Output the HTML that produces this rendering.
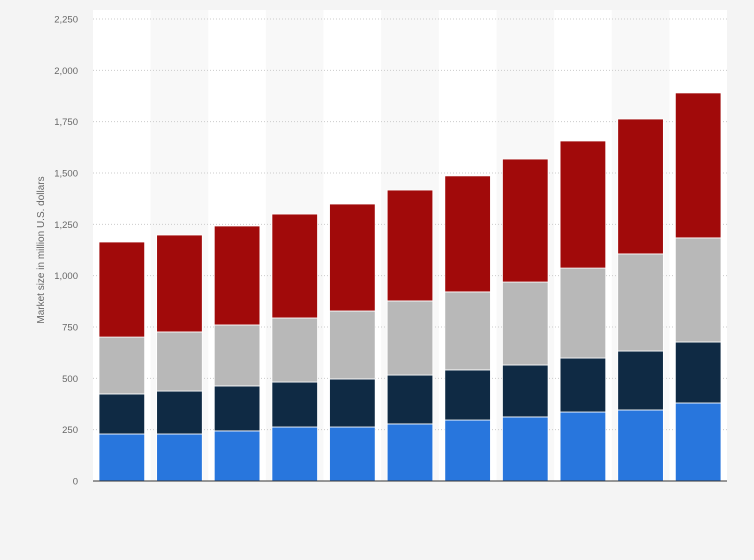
<!DOCTYPE html>
<html><head><meta charset="utf-8"><style>
body{margin:0;background:#f4f4f4;font-family:"Liberation Sans",sans-serif;}
svg{display:block}
</style></head><body>
<svg id="chart" width="754" height="560">
<rect x="0" y="0" width="754" height="560" fill="#f4f4f4"/>
<g id="plot"></g>
<text x="44" y="250" transform="rotate(-90 44 250)" text-anchor="middle" font-size="10" fill="#666">Market size in million U.S. dollars</text>
</svg>
<script>
const categories=["1","2","3","4","5","6","7","8","9","10","11"];
const seriesBlue=[229,229,244,263,263,278,297,312,336,346,380];
const seriesNavy=[195,209,219,219,234,238,244,253,263,287,297];
const seriesGray=[277,288,297,312,331,361,380,404,438,473,507];
const seriesRed=[463,472,482,506,521,540,565,599,619,657,706];
const yTicks=[0,250,500,750,1000,1250,1500,1750,2000,2250];
const colors=["#2876dd","#0f2a44","#b8b8b8","#a10a0a"];
const names=["blue","navy","gray","red"];
const NS="http://www.w3.org/2000/svg";
const g=document.getElementById('plot');
const x0=93,x1=727,yBase=481,yTop=19,yMax=2250;
const y=v=>yBase-(v/yMax)*(yBase-yTop);
const step=(x1-x0)/categories.length;
const bx=i=>x0+i*step;
function mk(t,a){const e=document.createElementNS(NS,t);for(const k in a)e.setAttribute(k,a[k]);g.appendChild(e);return e;}
const plotBg=mk('rect',{x:x0,y:10,width:x1-x0,height:yBase-10,fill:'#ffffff'});


categories.forEach((c,i)=>{if(i%2===1){const s=mk('rect',{x:bx(i),y:10,width:step,height:yBase-10,fill:'#f8f8f8'});

}});
yTicks.forEach(t=>{
 if(t>0){const l=mk('line',{x1:x0,x2:x1,y1:y(t),y2:y(t),stroke:'#ccc','stroke-dasharray':'1,2'});
 
 }
 const tx=mk('text',{x:78,y:y(t)+3.5,'text-anchor':'end','font-size':'9.5',fill:'#666'});
 tx.textContent=t.toLocaleString('en-US');
 
 
});
const series=[seriesBlue,seriesNavy,seriesGray,seriesRed];
categories.forEach((c,i)=>{
 let acc=0;
 series.forEach((s,k)=>{
  const v=s[i];
  const r=mk('rect',{x:bx(i)+6,y:y(acc+v),width:step-12,height:y(acc)-y(acc+v),fill:colors[k],stroke:'#fff','stroke-width':'0.8'});
  
  
  acc+=v;
 });
});
const ax=mk('line',{x1:x0,x2:x1,y1:yBase,y2:yBase,stroke:'#333','stroke-width':'1'});


</script>
</body></html>
